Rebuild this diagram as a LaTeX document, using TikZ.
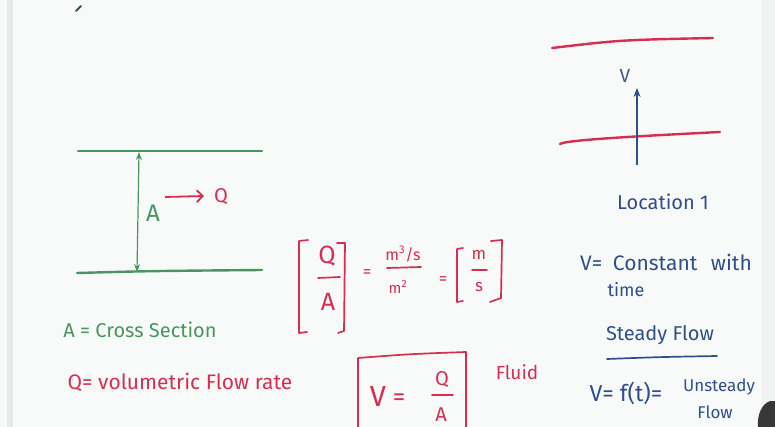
\documentclass[tikz,border=0pt]{standalone}
\usepackage{fontspec}
\setmainfont{Fira Sans}
\usepackage{tikz}
\usetikzlibrary{arrows.meta,positioning}
\definecolor{boardbg}{RGB}{248,250,249}
\definecolor{boardedge}{RGB}{232,234,234}
\definecolor{inkgreen}{RGB}{72,150,95}
\definecolor{inkred}{RGB}{214,45,80}
\definecolor{inkblue}{RGB}{48,78,140}
\newcommand{\fsz}[1]{\fontsize{#1}{#1}\selectfont}
\tikzset{
  gtext/.style={text=inkgreen,inner sep=0pt,font=\fsz{20}},
  rtext/.style={text=inkred,inner sep=0pt,font=\fsz{20}},
  btext/.style={text=inkblue,inner sep=0pt,font=\fsz{20}},
  gwall/.style={draw=inkgreen,line width=2.4pt,line cap=round},
  rwall/.style={draw=inkred,line width=2.4pt,line cap=round},
  rstroke/.style={draw=inkred,line width=1.7pt,line cap=round,line join=round},
  bstroke/.style={draw=inkblue,line width=1.7pt,line cap=round},
  areaarrow/.style={draw=inkgreen,line width=1.2pt,{Stealth[length=8pt,width=6pt]}-{Stealth[length=8pt,width=6pt]}},
  flowarrow/.style={draw=inkred,line width=1.8pt,-{Straight Barb[length=6pt,width=12pt]}},
  velarrow/.style={draw=inkblue,line width=1.4pt,-{Stealth[length=9pt,width=7pt]}}
}

\begin{document}
\begin{tikzpicture}[x=1pt,y=-1pt]
  % board
  \fill[boardbg] (0,0) rectangle (775,427);
  \useasboundingbox (0,0) rectangle (775,427);
  \fill[boardedge] (7,0) rectangle (13,427);
  \fill[boardedge!60] (762,0) rectangle (775,427);
  \draw[inkgreen!60!black,line width=2pt,line cap=round] (76,11) -- (81,6);

  % pipe section, left
  \draw[gwall] (78,151) -- (262,151);
  \draw[gwall] (77,273) .. controls (150,271) .. (262,270);
  \coordinate (atop) at (139,152);
  \coordinate (abot) at (137,272);
  \draw[areaarrow] (abot) -- (atop);
  \node[gtext,font=\fsz{24}] (alabel) at (153,213) {A};
  \coordinate (qstart) at (165,197);
  \coordinate (qend) at (204,196);
  \draw[flowarrow] (qstart) -- (qend);
  \node[rtext] (qlabel) at (221,197) {Q};
  \node[gtext] (crosssec) at (140,330) {A = Cross Section};
  \node[rtext,font=\fsz{21}] (volflow) at (180,382) {Q= volumetric Flow rate};

  % units of Q/A
  \node[rtext,font=\fsz{25}] (bq) at (327,256) {Q};
  \node[rtext,font=\fsz{25}] (ba) at (328,302) {A};
  \draw[rstroke] (318,278) -- (340,277);
  \draw[rstroke] (308,240) -- (299,241) -- (299,333) -- (307,332);
  \draw[rstroke] (337,243) -- (345,243) -- (344,331) -- (338,333);
  \node[rtext,font=\fsz{17}] (eqa) at (367,274) {=};
  \node[rtext,font=\fsz{16}] (unum) at (403,254) {m\textsuperscript{3}/s};
  \draw[rstroke] (387,268) -- (421,267);
  \node[rtext,font=\fsz{15}] (uden) at (398,287) {m\textsuperscript{2}};
  \node[rtext,font=\fsz{17}] (eqb) at (443,281) {=};
  \node[rtext,font=\fsz{17}] (mm) at (479,255) {m};
  \draw[rstroke] (472,270) -- (487,270);
  \node[rtext,font=\fsz{17}] (ss) at (479,287) {s};
  \draw[rstroke] (463,248) -- (457,249) -- (457,302) -- (463,301);
  \draw[rstroke] (491,241) -- (502,240) -- (501,298) -- (490,302);

  % V = Q/A box
  \draw[rstroke] (358,427) -- (358,358) .. controls (410,354) .. (466,352) -- (466,427);
  \node[rtext,font=\fsz{29}] (vbox) at (378,397) {V};
  \node[rtext,font=\fsz{25}] (eqc) at (399,400) {=};
  \node[rtext] (vq) at (442,380) {Q};
  \draw[rstroke] (432,395) -- (453,395);
  \node[rtext] (va) at (441,415) {A};
  \node[rtext,font=\fsz{19}] (fluid) at (517,372) {Fluid};

  % pipe section, right
  \draw[rwall] (552,48) .. controls (620,40) .. (713,38);
  \draw[rwall] (560,144) .. controls (565,140) and (640,136) .. (720,132);
  \coordinate (vstart) at (637,165);
  \coordinate (vend) at (637,88);
  \draw[velarrow] (vstart) -- (vend);
  \node[btext,font=\fsz{19},text=inkblue!80!gray] (vlabel) at (625,76) {V};
  \node[btext] (loc) at (663,202) {Location 1};

  % steady / unsteady
  \node[btext,font=\fsz{21}] (steadyv) at (666,262) {V=\hspace{5pt} Constant\hspace{8pt} with};
  \node[btext,font=\fsz{18}] (time) at (626,290) {time};
  \node[btext] (steady) at (660,335) {Steady Flow};
  \draw[bstroke] (607,359) .. controls (660,357) .. (717,356);
  \node[btext,font=\fsz{23}] (unsteadyv) at (626,393) {V= f(t)=};
  \node[btext,font=\fsz{17}] (unsteady) at (719,387) {Unsteady};
  \node[btext,font=\fsz{17}] (uflow) at (715,412) {Flow};
  \fill[black!78] (758,427) .. controls (757,414) and (762,404) .. (770,401) -- (775,401) -- (775,427) -- cycle;
\end{tikzpicture}
\end{document}
